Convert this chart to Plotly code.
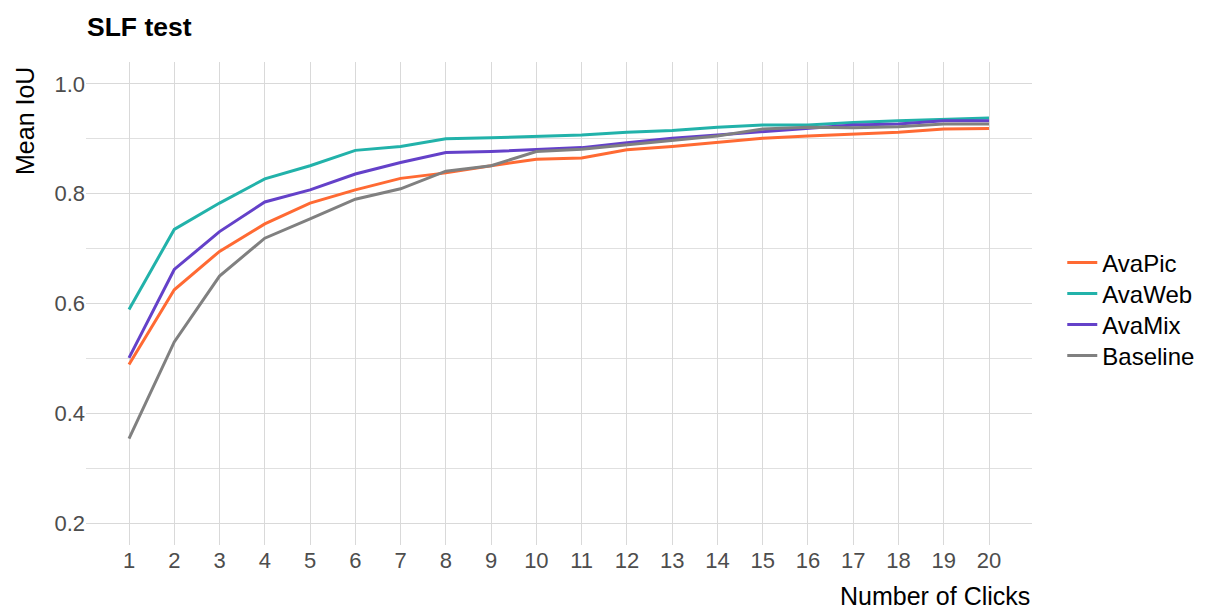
import plotly.graph_objects as go

clicks = list(range(1, 21))
ava_pic = [0.489, 0.625, 0.695, 0.745, 0.783, 0.807, 0.828, 0.838, 0.851, 0.863,
           0.865, 0.880, 0.886, 0.893, 0.901, 0.905, 0.908, 0.912, 0.918, 0.919]
ava_web = [0.589, 0.735, 0.783, 0.827, 0.851, 0.879, 0.886, 0.900, 0.902, 0.904,
           0.907, 0.912, 0.915, 0.921, 0.925, 0.925, 0.930, 0.933, 0.936, 0.938]
ava_mix = [0.501, 0.662, 0.731, 0.785, 0.807, 0.836, 0.857, 0.875, 0.877, 0.881,
           0.884, 0.893, 0.901, 0.907, 0.913, 0.920, 0.925, 0.927, 0.933, 0.933]
baseline = [0.354, 0.530, 0.650, 0.719, 0.754, 0.790, 0.809, 0.841, 0.851, 0.877,
            0.881, 0.889, 0.897, 0.905, 0.918, 0.921, 0.920, 0.922, 0.927, 0.927]

series = [
    ("AvaPic", ava_pic, "#FF6A33"),
    ("AvaWeb", ava_web, "#22B2AA"),
    ("AvaMix", ava_mix, "#6441C9"),
    ("Baseline", baseline, "#808080"),
]

y_ticks = [0.2, 0.4, 0.6, 0.8, 1.0]
y_tick_labels = ["0.2", "0.4", "0.6", "0.8", "1.0"]

W, H = 1200, 602
L, R, T, B = 78, 176, 54, 65
PW, PH = W - L - R, H - T - B

# legend item centres (pixels from top of figure)
legend_rows = [255, 286, 317, 348]

fig = go.Figure()
font_family = "Liberation Sans, Arial, sans-serif"
legend_layouts = {}
for i, (name, vals, color) in enumerate(series):
    key = f"legend{i + 2}"
    fig.add_trace(go.Scatter(x=clicks, y=vals, mode="lines", name=name,
                             legend=key, line=dict(color=color, width=3)))
    legend_layouts[key] = dict(
        x=1.032, xanchor="left", y=1 - (legend_rows[i] - T) / PH, yanchor="middle",
        font=dict(size=24, color="black", family=font_family), itemwidth=30,
        bgcolor="rgba(0,0,0,0)", borderwidth=0, visible=True)

fig.update_layout(
    width=W, height=H,
    margin=dict(l=L, r=R, t=T, b=B, autoexpand=False),
    showlegend=True,
    plot_bgcolor="white", paper_bgcolor="white",
    font=dict(family=font_family, size=22, color="#4D4D4D"),
    title=dict(text="<b>SLF test</b>", x=79 / W, xanchor="left", xref="container",
               y=1 - 19 / H, yref="container", yanchor="middle",
               font=dict(size=26.5, color="black", family=font_family)),
    xaxis=dict(range=[0.05, 20.95], tickmode="array", tickvals=clicks,
               ticktext=[str(c) for c in clicks], showgrid=True,
               gridcolor="#D9D9D9", gridwidth=1.2, zeroline=False, showline=False,
               ticks="", tickfont=dict(size=22, color="#4D4D4D")),
    yaxis=dict(range=[0.16, 1.04], tickmode="array", tickvals=y_ticks,
               ticktext=y_tick_labels, showgrid=True, gridcolor="#D9D9D9",
               gridwidth=1.2, zeroline=False, showline=False, ticks="",
               tickfont=dict(size=22, color="#4D4D4D"),
               minor=dict(tickmode="array", tickvals=[0.3, 0.5, 0.7, 0.9],
                          showgrid=True, gridcolor="#E0E0E0", gridwidth=1)),
    annotations=[
        dict(text="Number of Clicks", xref="paper", yref="paper",
             x=1.0, xanchor="right", y=-51 / PH, yanchor="middle",
             showarrow=False, font=dict(size=25, color="black")),
        dict(text="Mean IoU", xref="paper", yref="paper", textangle=-90,
             x=(17 - L) / PW, xanchor="center", y=1 - 3 / PH, yanchor="top",
             showarrow=False, font=dict(size=25, color="black")),
    ],
    **legend_layouts,
)

fig.write_html("out.html")
